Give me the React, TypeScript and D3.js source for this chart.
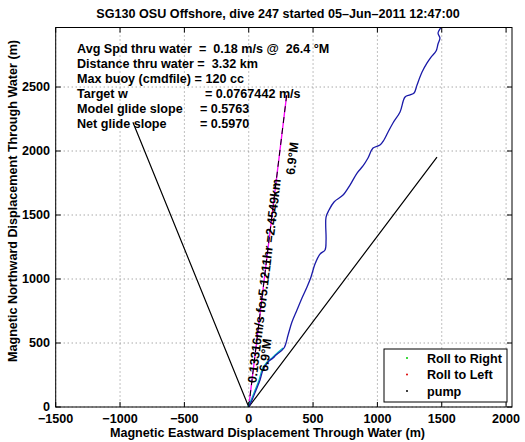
import React from "react";
import * as d3 from "d3";

const W = 525;
const H = 442;

const xTicks = [-1500, -1000, -500, 0, 500, 1000, 1500, 2000];
const yTicks = [0, 500, 1000, 1500, 2000, 2500];
const xDomain = [-1500, 2046];
const yDomain = [0, 2965];

// glider track through water (m)
const trackX = [0, 26, 57, 88, 111, 150, 189, 212, 274, 306, 336, 375, 414, 453, 484, 515, 554, 593, 601, 601, 624, 663, 733, 787, 842, 888, 927, 966, 1020, 1051, 1083, 1121, 1176, 1215, 1254, 1285, 1308, 1347, 1386, 1417, 1456, 1471, 1486, 1471, 1494, 1500];
const trackY = [0, 55, 133, 211, 289, 352, 383, 406, 461, 563, 664, 758, 852, 938, 1016, 1117, 1195, 1227, 1305, 1484, 1539, 1602, 1656, 1734, 1828, 1883, 1945, 2023, 2047, 2086, 2148, 2219, 2305, 2422, 2438, 2453, 2516, 2617, 2688, 2734, 2781, 2836, 2883, 2922, 2969, 3010];

// glide cone lines
const coneX = [-900, 0, 1463];
const coneY = [2225, 0, 1953];

// depth-averaged current
const currentHeading = 6.9; // deg M
const currentSpeed = 0.13316; // m/s
const currentHours = 5.1211;
const currentDist = 2454.9; // m

const infoLines = [
  ["Avg Spd thru water  =  0.18 m/s @  26.4 °M", ""],
  ["Distance thru water =  3.32 km", ""],
  ["Max buoy (cmdfile) = 120 cc", ""],
  ["Target w", "= 0.0767442 m/s"],
  ["Model glide slope", "= 0.5763"],
  ["Net glide slope", "= 0.5970"],
];
const infoValueX = [0, 0, 0, 205, 200, 200];

const legendItems = ["Roll to Right", "Roll to Left", "pump"];
const legendColors = ["#00cc00", "#dd0000", "#000000"];

const FONT = "'Liberation Sans', Arial, Helvetica, sans-serif";
const FS = 12.6;

export default function App() {
  const L = 55.7, R = 512, T = 27.5, B = 407;
  const x = d3.scaleLinear().domain(xDomain).range([L, R]);
  const y = d3.scaleLinear().domain(yDomain).range([B, T]);

  const line = d3
    .line<number>()
    .curve(d3.curveCatmullRom.alpha(0.5))
    .x((_, i) => x(trackX[i]))
    .y((_, i) => y(trackY[i]));
  const trackPath = line(trackX) || "";
  const cyanPath =
    d3
      .line<number>()
      .curve(d3.curveCatmullRom.alpha(0.5))
      .x((_, i) => x(trackX[i]) - 1)
      .y((_, i) => y(trackY[i]))(trackX.slice(0, 9)) || "";
  const conePath = d3.line<number>().x((_, i) => x(coneX[i])).y((_, i) => y(coneY[i]))(coneX) || "";

  const rad = (currentHeading * Math.PI) / 180;
  const ex = currentDist * Math.sin(rad);
  const ey = currentDist * Math.cos(rad);
  const curPath = d3.line()([[x(0), y(0)], [x(ex), y(ey)]]) || "";

  // screen angle of current line
  const ang = (Math.atan2(y(ey) - y(0), x(ex) - x(0)) * 180) / Math.PI;
  const ptAt = (d: number, off: number) => {
    const px = x(d * Math.sin(rad));
    const py = y(d * Math.cos(rad));
    const a = (ang * Math.PI) / 180;
    const nx = -Math.sin(a);
    const ny = Math.cos(a);
    return [px + nx * off, py + ny * off];
  };
  const p1 = ptAt(190, 0);
  const p2 = ptAt(290, 10);
  const p3 = ptAt(1840, 13);
  const curLabel = `${currentSpeed}m/s for${currentHours}hr =${(currentDist / 1000).toFixed(4)}km`;

  const fmt = (v: number) => (v < 0 ? "\u2212" + Math.abs(v) : String(v));
  const tl = 5;

  return (
    <svg width={W} height={H} style={{ position: "absolute", left: 0, top: 0, background: "#fff" }} fontFamily={FONT}>
      <defs>
        <clipPath id="plotclip">
          <rect x={L} y={T} width={R - L} height={B - T} />
        </clipPath>
      </defs>
      <rect x={0} y={0} width={W} height={H} fill="#fff" />
      {/* grid */}
      {xTicks.map((t) => (
        <line key={"gx" + t} x1={x(t)} x2={x(t)} y1={T} y2={B} stroke="#808080" strokeWidth={1} strokeDasharray="1,3" />
      ))}
      {yTicks.map((t) => (
        <line key={"gy" + t} x1={L} x2={R} y1={y(t)} y2={y(t)} stroke="#808080" strokeWidth={1} strokeDasharray="1,3" />
      ))}
      <g clipPath="url(#plotclip)">
        <path d={conePath} fill="none" stroke="#000" strokeWidth={1.2} />
        <path d={curPath} fill="none" stroke="#ff00ff" strokeWidth={1.3} />
        <path d={curPath} fill="none" stroke="#000" strokeWidth={1} strokeDasharray="6,5" />
        <path d={cyanPath} fill="none" stroke="#00c0c0" strokeWidth={1.2} />
        <path d={trackPath} fill="none" stroke="#1a1aa8" strokeWidth={1.3} />
      </g>
      {/* current labels */}
      <text x={p1[0]} y={p1[1]} dy="0.36em" transform={`rotate(${ang} ${p1[0]} ${p1[1]})`} fontSize={FS} fontWeight="bold">
        {curLabel}
      </text>
      <text x={p2[0]} y={p2[1]} dy="0.36em" transform={`rotate(${ang} ${p2[0]} ${p2[1]})`} fontSize={FS} fontWeight="bold">
        {currentHeading}°M
      </text>
      <text x={p3[0]} y={p3[1]} dy="0.36em" transform={`rotate(${ang} ${p3[0]} ${p3[1]})`} fontSize={FS} fontWeight="bold">
        {currentHeading}°M
      </text>
      {/* axes box */}
      <rect x={L} y={T} width={R - L} height={B - T} fill="none" stroke="#000" strokeWidth={1} />
      {xTicks.map((t) => (
        <g key={"tx" + t}>
          <line x1={x(t)} x2={x(t)} y1={B} y2={B - tl} stroke="#000" />
          <line x1={x(t)} x2={x(t)} y1={T} y2={T + tl} stroke="#000" />
          <text x={x(t)} y={423} textAnchor="middle" fontSize={FS} fontWeight="bold">
            {fmt(t)}
          </text>
        </g>
      ))}
      {yTicks.map((t) => (
        <g key={"ty" + t}>
          <line x1={L} x2={L + tl} y1={y(t)} y2={y(t)} stroke="#000" />
          <line x1={R} x2={R - tl} y1={y(t)} y2={y(t)} stroke="#000" />
          <text x={50} y={y(t) + 3.5} textAnchor="end" fontSize={FS} fontWeight="bold">
            {fmt(t)}
          </text>
        </g>
      ))}
      {/* info text */}
      {infoLines.map((ln, i) => (
        <g key={"info" + i}>
          <text x={77} y={52.5 + i * 15} fontSize={FS} fontWeight="bold" style={{ whiteSpace: "pre" }}>
            {ln[0]}
          </text>
          {ln[1] ? (
            <text x={infoValueX[i]} y={52.5 + i * 15} fontSize={FS} fontWeight="bold" style={{ whiteSpace: "pre" }}>
              {ln[1]}
            </text>
          ) : null}
        </g>
      ))}
      {/* legend */}
      <rect x={384} y={349} width={123} height={53} fill="#fff" stroke="#000" strokeWidth={1} />
      {legendItems.map((s, i) => (
        <g key={"lg" + i}>
          <circle cx={407} cy={358 + i * 16.5} r={1} fill={legendColors[i]} />
          <text x={427} y={362.5 + i * 16.5} fontSize={FS} fontWeight="bold">
            {s}
          </text>
        </g>
      ))}
      {/* titles */}
      <text x={278} y={18} textAnchor="middle" fontSize={FS} fontWeight="bold">
        SG130 OSU Offshore, dive 247 started 05–Jun–2011 12:47:00
      </text>
      <text x={267.5} y={437} textAnchor="middle" fontSize={FS} fontWeight="bold">
        Magnetic Eastward Displacement Through Water (m)
      </text>
      <text x={17} y={201} textAnchor="middle" fontSize={FS} fontWeight="bold" transform="rotate(-90 17 201)">
        Magnetic Northward Displacement Through Water (m)
      </text>
    </svg>
  );
}
